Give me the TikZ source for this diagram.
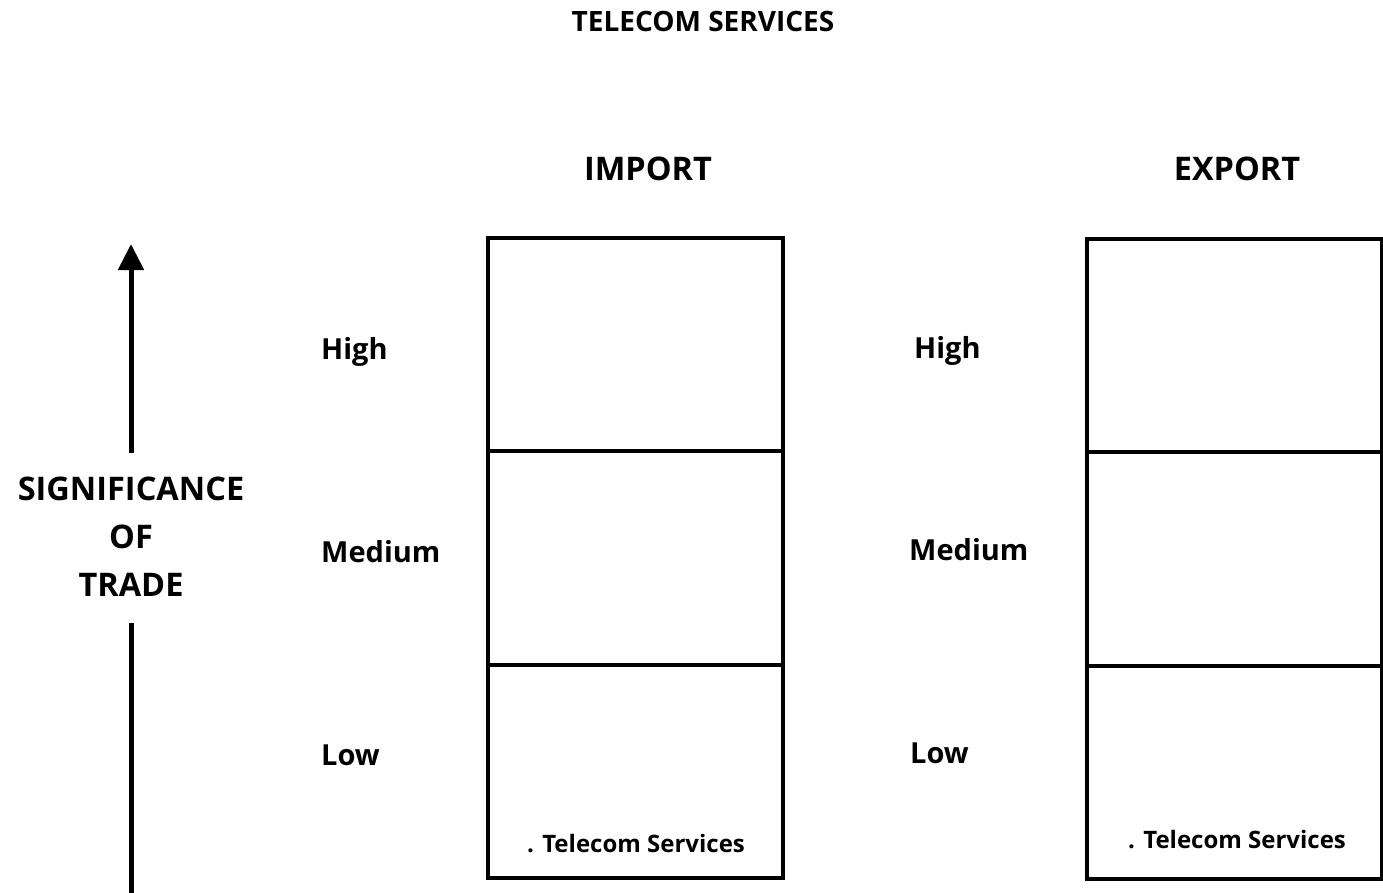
\documentclass[tikz,border=0pt]{standalone}
\usepackage{fontspec}
\setmainfont{Open Sans}
\usetikzlibrary{arrows.meta,positioning}
\tikzset{
  cell/.style={draw, line width=4pt, minimum width=295pt, minimum height=213.5pt, inner sep=0pt, outer sep=0pt},
  level/.style={anchor=base west, inner sep=0pt, font=\bfseries\fontsize{29}{32}\selectfont},
  head/.style={anchor=base, inner sep=0pt, font=\bfseries\fontsize{32.5}{36}\selectfont},
  item/.style={anchor=base, inner sep=0pt, font=\bfseries\fontsize{24}{28}\selectfont}
}
\begin{document}
\begin{tikzpicture}[x=1pt, y=-1pt]
\useasboundingbox (0,0) rectangle (1383,893);
% title and column heads
\node[anchor=base, inner sep=0pt, font=\bfseries\fontsize{28}{30}\selectfont] (title) at (703,32) {TELECOM SERVICES};
\node[head] (imphead) at (648,181) {IMPORT};
\node[head] (exphead) at (1237,181) {EXPORT};
% import column
\node[cell] (imphigh) at (635.5,344.5) {};
\node[cell, below=0pt of imphigh] (impmed) {};
\node[cell, below=0pt of impmed] (implow) {};
\node[item] (impitem) at (636,852) {. Telecom Services};
% export column
\node[cell] (exphigh) at (1234.5,345.5) {};
\node[cell, below=0pt of exphigh] (expmed) {};
\node[cell, below=0pt of expmed] (explow) {};
\node[item] (expitem) at (1237,848) {. Telecom Services};
% level labels
\node[level] (lhigh1) at (321,359) {High};
\node[level] (lmed1) at (321,562) {Medium};
\node[level] (llow1) at (321,765) {Low};
\node[level] (lhigh2) at (914,358) {High};
\node[level] (lmed2) at (909,560) {Medium};
\node[level] (llow2) at (910,763) {Low};
% significance axis
\node[align=center, inner sep=0pt, font=\bfseries\fontsize{32.5}{48}\selectfont] (sig) at (131,537) {SIGNIFICANCE\\OF\\TRADE};
\coordinate (tip) at (131,244);
\coordinate (foot) at (131,893);
\draw[line width=5pt, -{Triangle[length=26pt, width=25pt]}] ([yshift=24pt]sig.north) -- (tip);
\draw[line width=5pt] ([yshift=-26pt]sig.south) -- (foot);
\end{tikzpicture}
\end{document}
